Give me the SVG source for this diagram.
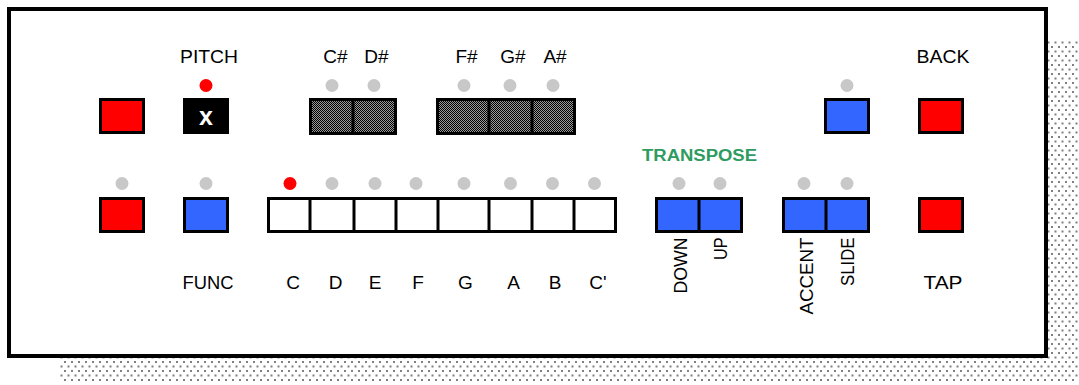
<svg xmlns="http://www.w3.org/2000/svg" width="1079" height="385" viewBox="0 0 1079 385">
  <style>
    .lbl { font-family: "Liberation Sans", Arial, sans-serif; font-size: 19px; fill: #000; text-anchor: middle; }
    .vlbl { font-family: "Liberation Sans", Arial, sans-serif; font-size: 19px; fill: #000; text-anchor: end; }
    .grp { font-family: "Liberation Sans", Arial, sans-serif; font-size: 16px; font-weight: bold; fill: #2e9b5f; text-anchor: middle; }
    .btn { stroke: #000; stroke-width: 3; }
    .red { fill: #ff0000; }
    .blue { fill: #3366ff; }
    .white { fill: #ffffff; }
    .sharp { fill: url(#dither); }
    .div { stroke: #000; stroke-width: 3; }
    .led-off { fill: #c8c8c8; }
    .led-on { fill: #ff0000; }
  </style>
  <defs>
    <pattern id="dots" x="0" y="0" width="7" height="9" patternUnits="userSpaceOnUse">
      <rect x="1" y="1" width="2" height="2" fill="#808080"/>
      <rect x="4.5" y="5.5" width="2" height="2" fill="#808080"/>
    </pattern>
    <pattern id="dither" x="0" y="0" width="2" height="2" patternUnits="userSpaceOnUse">
      <rect x="0" y="0" width="2" height="2" fill="#9a9a9a"/>
      <rect x="0" y="0" width="1" height="1" fill="#000"/>
      <rect x="1" y="1" width="1" height="1" fill="#000"/>
    </pattern>
  </defs>

  <g id="panel">
    <rect x="60" y="40" width="1019" height="343" fill="url(#dots)"/>
    <rect x="9" y="9" width="1037" height="347" fill="#fff" stroke="#000" stroke-width="4"/>
  </g>

  <g id="connectors"></g>

  <!-- Row 1 -->
  <g id="btn-top-left">
    <rect class="btn red" x="100.5" y="99.5" width="43" height="33"/>
  </g>
  <g id="pitch">
    <text class="lbl" x="209" y="63" textLength="58" lengthAdjust="spacingAndGlyphs">PITCH</text>
    <circle class="led-on" cx="206" cy="85.5" r="6.5"/>
    <rect class="btn" fill="#000" x="184.5" y="99.5" width="43" height="33"/>
    <text x="206" y="125" font-family="Liberation Sans, Arial, sans-serif" font-size="25" font-weight="bold" fill="#fff" text-anchor="middle">x</text>
  </g>
  <g id="sharps-1">
    <text class="lbl" x="335.5" y="63">C#</text>
    <text class="lbl" x="376.5" y="63">D#</text>
    <circle class="led-off" cx="332" cy="85.5" r="6.5"/>
    <circle class="led-off" cx="374" cy="85.5" r="6.5"/>
    <rect class="btn sharp" x="310.5" y="99.5" width="85" height="34"/>
    <line class="div" x1="353" y1="99" x2="353" y2="134"/>
  </g>
  <g id="sharps-2">
    <text class="lbl" x="466.5" y="63">F#</text>
    <text class="lbl" x="513" y="63">G#</text>
    <text class="lbl" x="555" y="63">A#</text>
    <circle class="led-off" cx="464" cy="85.5" r="6.5"/>
    <circle class="led-off" cx="510" cy="85.5" r="6.5"/>
    <circle class="led-off" cx="553" cy="85.5" r="6.5"/>
    <rect class="btn sharp" x="437.5" y="99.5" width="137" height="34"/>
    <line class="div" x1="489" y1="99" x2="489" y2="134"/>
    <line class="div" x1="532" y1="99" x2="532" y2="134"/>
  </g>
  <g id="btn-top-blue">
    <circle class="led-off" cx="847" cy="85.5" r="6.5"/>
    <rect class="btn blue" x="825.5" y="99.5" width="43" height="33"/>
  </g>
  <g id="back">
    <text class="lbl" x="943" y="63" textLength="53" lengthAdjust="spacingAndGlyphs">BACK</text>
    <rect class="btn red" x="919.5" y="99.5" width="43" height="33"/>
  </g>

  <!-- Row 2 -->
  <g id="btn-bottom-left">
    <circle class="led-off" cx="122" cy="183.5" r="6.5"/>
    <rect class="btn red" x="100.5" y="198.5" width="43" height="33"/>
  </g>
  <g id="func">
    <circle class="led-off" cx="206" cy="183.5" r="6.5"/>
    <rect class="btn blue" x="184.5" y="198.5" width="43" height="33"/>
    <text class="lbl" x="208" y="289" textLength="51" lengthAdjust="spacingAndGlyphs">FUNC</text>
  </g>
  <g id="notes">
    <circle class="led-on" cx="290" cy="183.5" r="6.5"/>
    <circle class="led-off" cx="332" cy="183.5" r="6.5"/>
    <circle class="led-off" cx="375" cy="183.5" r="6.5"/>
    <circle class="led-off" cx="416" cy="183.5" r="6.5"/>
    <circle class="led-off" cx="464" cy="183.5" r="6.5"/>
    <circle class="led-off" cx="510.5" cy="183.5" r="6.5"/>
    <circle class="led-off" cx="552.5" cy="183.5" r="6.5"/>
    <circle class="led-off" cx="594.5" cy="183.5" r="6.5"/>
    <rect class="btn white" x="268.5" y="198.5" width="347" height="33"/>
    <line class="div" x1="310" y1="198" x2="310" y2="232"/>
    <line class="div" x1="354" y1="198" x2="354" y2="232"/>
    <line class="div" x1="396" y1="198" x2="396" y2="232"/>
    <line class="div" x1="438" y1="198" x2="438" y2="232"/>
    <line class="div" x1="489" y1="198" x2="489" y2="232"/>
    <line class="div" x1="532" y1="198" x2="532" y2="232"/>
    <line class="div" x1="574" y1="198" x2="574" y2="232"/>
    <text class="lbl" x="293" y="289">C</text>
    <text class="lbl" x="335.5" y="289">D</text>
    <text class="lbl" x="375" y="289">E</text>
    <text class="lbl" x="418" y="289">F</text>
    <text class="lbl" x="465.5" y="289">G</text>
    <text class="lbl" x="513.5" y="289">A</text>
    <text class="lbl" x="555" y="289">B</text>
    <text class="lbl" x="598" y="289">C'</text>
  </g>
  <g id="transpose">
    <text class="grp" x="699.5" y="161" textLength="115" lengthAdjust="spacingAndGlyphs">TRANSPOSE</text>
    <circle class="led-off" cx="679" cy="183.5" r="6.5"/>
    <circle class="led-off" cx="720" cy="183.5" r="6.5"/>
    <rect class="btn blue" x="656.5" y="198.5" width="85" height="33"/>
    <line class="div" x1="699" y1="198" x2="699" y2="232"/>
    <text class="vlbl" transform="translate(686.5,237.5) rotate(-90)" textLength="56" lengthAdjust="spacingAndGlyphs">DOWN</text>
    <text class="vlbl" transform="translate(727,237.5) rotate(-90)" textLength="22.5" lengthAdjust="spacingAndGlyphs">UP</text>
  </g>
  <g id="accent-slide">
    <circle class="led-off" cx="804" cy="183.5" r="6.5"/>
    <circle class="led-off" cx="847" cy="183.5" r="6.5"/>
    <rect class="btn blue" x="783.5" y="198.5" width="85" height="33"/>
    <line class="div" x1="826" y1="198" x2="826" y2="232"/>
    <text class="vlbl" transform="translate(813,237.5) rotate(-90)" textLength="77" lengthAdjust="spacingAndGlyphs">ACCENT</text>
    <text class="vlbl" transform="translate(854,237.5) rotate(-90)" textLength="48.5" lengthAdjust="spacingAndGlyphs">SLIDE</text>
  </g>
  <g id="tap">
    <rect class="btn red" x="919.5" y="198.5" width="43" height="33"/>
    <text class="lbl" x="943" y="289" textLength="39" lengthAdjust="spacingAndGlyphs">TAP</text>
  </g>
</svg>
